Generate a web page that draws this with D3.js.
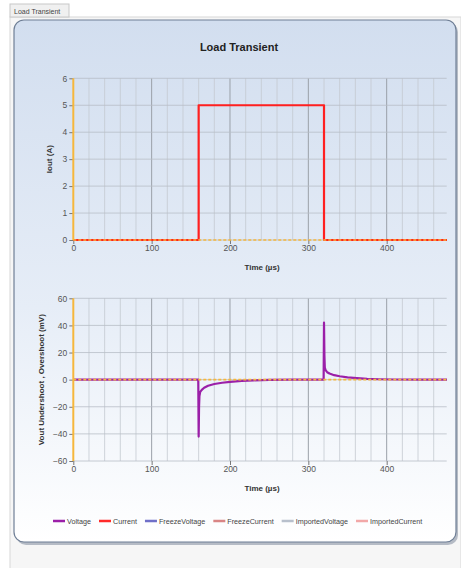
<!DOCTYPE html>
<html>
<head>
<meta charset="utf-8">
<script src="https://cdn.jsdelivr.net/npm/d3@7"></script>
<style>
  body { margin: 0; background: #ffffff; font-family: "Liberation Sans", Arial, sans-serif; }
  svg { display: block; }
  .tick text { fill: #555; font-size: 8.5px; }
  .tick line { stroke: #777; }
  .domain { display: none; }
</style>
</head>
<body>
<div id="chart"></div>
<script>
// ---- data ----
let timeCurrent = [0, 160, 160, 320, 320, 477];
let currentVals = [0, 0, 5, 5, 0, 0];

let timeVoltage = [0, 159.5, 160, 160.5, 161, 162, 164, 167, 172, 180, 190, 200, 215, 230, 250, 280,
                   319.5, 320, 320.5, 321, 322, 324, 327, 333, 340, 350, 362, 375, 390, 410, 440, 477];
let voltageVals = [0, 0, -42, -20, -12, -9, -7.5, -6, -4.5, -3.2, -2.3, -1.6, -0.9, -0.5, -0.2, -0.05,
                   0, 42, 18, 9, 7, 5.5, 4.5, 3.3, 2.5, 1.7, 1.1, 0.6, 0.3, 0.1, 0, 0];

let xTicks = [0, 100, 200, 300, 400];
let yTicksTop = [0, 1, 2, 3, 4, 5, 6];
let yTicksBottom = [-60, -40, -20, 0, 20, 40, 60];

let legendNames = ["Voltage", "Current", "FreezeVoltage", "FreezeCurrent", "ImportedVoltage", "ImportedCurrent"];
let legendColors = ["#9b1fa8", "#ff2a2a", "#6f6fc8", "#d98585", "#b8c0cc", "#f2a8a8"];

let width = 461, height = 568;

let svg = d3.select("#chart").append("svg")
  .attr("width", width)
  .attr("height", height);

// page frame
svg.append("rect").attr("x", 0).attr("y", 0).attr("width", width).attr("height", height).attr("fill", "#ffffff");
svg.append("rect").attr("x", 10).attr("y", 17).attr("width", 451).attr("height", 560)
  .attr("fill", "#f6f6f6").attr("stroke", "#d8d8d8");
svg.append("rect").attr("x", 10).attr("y", 4).attr("width", 59).attr("height", 13)
  .attr("fill", "#f0f0f0").attr("stroke", "#c8c8c8");
svg.append("text").attr("x", 14).attr("y", 14).text("Load Transient")
  .attr("font-size", 7).attr("fill", "#444");

// panel
let defs = svg.append("defs");
let grad = defs.append("linearGradient").attr("id", "panelGrad")
  .attr("x1", 0).attr("y1", 0).attr("x2", 0).attr("y2", 1);
grad.append("stop").attr("offset", "0%").attr("stop-color", "#d2deef");
grad.append("stop").attr("offset", "55%").attr("stop-color", "#e6edf7");
grad.append("stop").attr("offset", "100%").attr("stop-color", "#ffffff");

svg.append("rect").attr("x", 16).attr("y", 22).attr("width", 442).attr("height", 523)
  .attr("rx", 10).attr("fill", "#8a95a5").attr("opacity", 0.6);
svg.append("rect").attr("x", 14).attr("y", 20).attr("width", 442).attr("height", 522)
  .attr("rx", 10).attr("fill", "url(#panelGrad)").attr("stroke", "#6f7f96").attr("stroke-width", 1.2);

svg.append("text").attr("x", 239).attr("y", 51).attr("text-anchor", "middle")
  .attr("font-size", 11).attr("font-weight", "bold").attr("fill", "#222").text("Load Transient");

// ---- plots ----
let left = 73.3, right = 446.7;
let xScale = d3.scaleLinear().domain([0, 476.6]).range([left, right]);

function drawPlot(top, bottom, yDomain, yTicks, yStep, label, times, values, color) {
  let yScale = d3.scaleLinear().domain(yDomain).range([bottom, top]);
  let g = svg.append("g");

  // vertical grid
  let minor = d3.range(20, 477, 20).filter(d => d % 100 !== 0);
  g.selectAll(".vminor").data(minor).join("line")
    .attr("x1", d => xScale(d)).attr("x2", d => xScale(d))
    .attr("y1", top).attr("y2", bottom)
    .attr("stroke", "#c4c9d0").attr("stroke-width", 0.8);
  g.selectAll(".vmajor").data(xTicks.filter(d => d > 0)).join("line")
    .attr("x1", d => xScale(d)).attr("x2", d => xScale(d))
    .attr("y1", top).attr("y2", bottom)
    .attr("stroke", "#9aa0a8").attr("stroke-width", 1);
  // horizontal grid
  let hlines = d3.range(yDomain[0], yDomain[1] + 0.001, yStep);
  g.selectAll(".hgrid").data(hlines).join("line")
    .attr("x1", left).attr("x2", right)
    .attr("y1", d => yScale(d)).attr("y2", d => yScale(d))
    .attr("stroke", "#b8bec6").attr("stroke-width", 0.8);

  // axes
  let yAxis = d3.axisLeft(yScale).tickValues(yTicks).tickSize(4).tickPadding(2)
    .tickFormat(d3.format("d"));
  g.append("g").attr("transform", `translate(${left},0)`).call(yAxis);
  let xAxis = d3.axisBottom(xScale).tickValues(xTicks).tickSize(4).tickPadding(1)
    .tickFormat(d3.format("d"));
  g.append("g").attr("transform", `translate(0,${bottom})`).call(xAxis);

  // series
  let line = d3.line().x((d, i) => xScale(times[i])).y(d => yScale(d));
  g.append("path").attr("d", line(values))
    .attr("fill", "none").attr("stroke", color).attr("stroke-width", 2.2)
    .attr("stroke-linejoin", "round");

  // orange zero reference and y axis line
  g.append("line").attr("x1", left).attr("x2", right)
    .attr("y1", yScale(0)).attr("y2", yScale(0))
    .attr("stroke", "#f6b73c").attr("stroke-width", 1.6).attr("stroke-dasharray", "3,2");
  g.append("line").attr("x1", left).attr("x2", left)
    .attr("y1", top).attr("y2", bottom)
    .attr("stroke", "#f6b73c").attr("stroke-width", 2);

  // labels
  g.append("text").attr("x", 262).attr("y", bottom + 30).attr("text-anchor", "middle")
    .attr("font-size", 8).attr("font-weight", "bold").attr("fill", "#333").text("Time (µs)");
  let cy = (top + bottom) / 2;
  let lx = label.length > 10 ? 44 : 52;
  g.append("text").attr("transform", `translate(${lx},${cy}) rotate(-90)`)
    .attr("text-anchor", "middle").attr("font-size", 8).attr("font-weight", "bold")
    .attr("fill", "#333").text(label);
}

drawPlot(78.3, 240, [0, 6], yTicksTop, 1, "Iout (A)", timeCurrent, currentVals, "#ff2020");
drawPlot(298.3, 461, [-60, 60], yTicksBottom, 20, "Vout Undershoot , Overshoot (mV)", timeVoltage, voltageVals, "#9b1fa8");

// ---- legend ----
let legend = svg.append("g").attr("transform", "translate(53,521)");
let lx = 0;
legendNames.forEach((name, i) => {
  let item = legend.append("g").attr("transform", `translate(${lx},0)`);
  item.append("line").attr("x1", 0).attr("x2", 12).attr("y1", 0).attr("y2", 0)
    .attr("stroke", legendColors[i]).attr("stroke-width", 2.5);
  let t = item.append("text").attr("x", 14).attr("y", 2.5)
    .attr("font-size", 7.2).attr("fill", "#444").text(name);
  lx += 14 + t.node().getComputedTextLength() + 8;
});
</script>
</body>
</html>
